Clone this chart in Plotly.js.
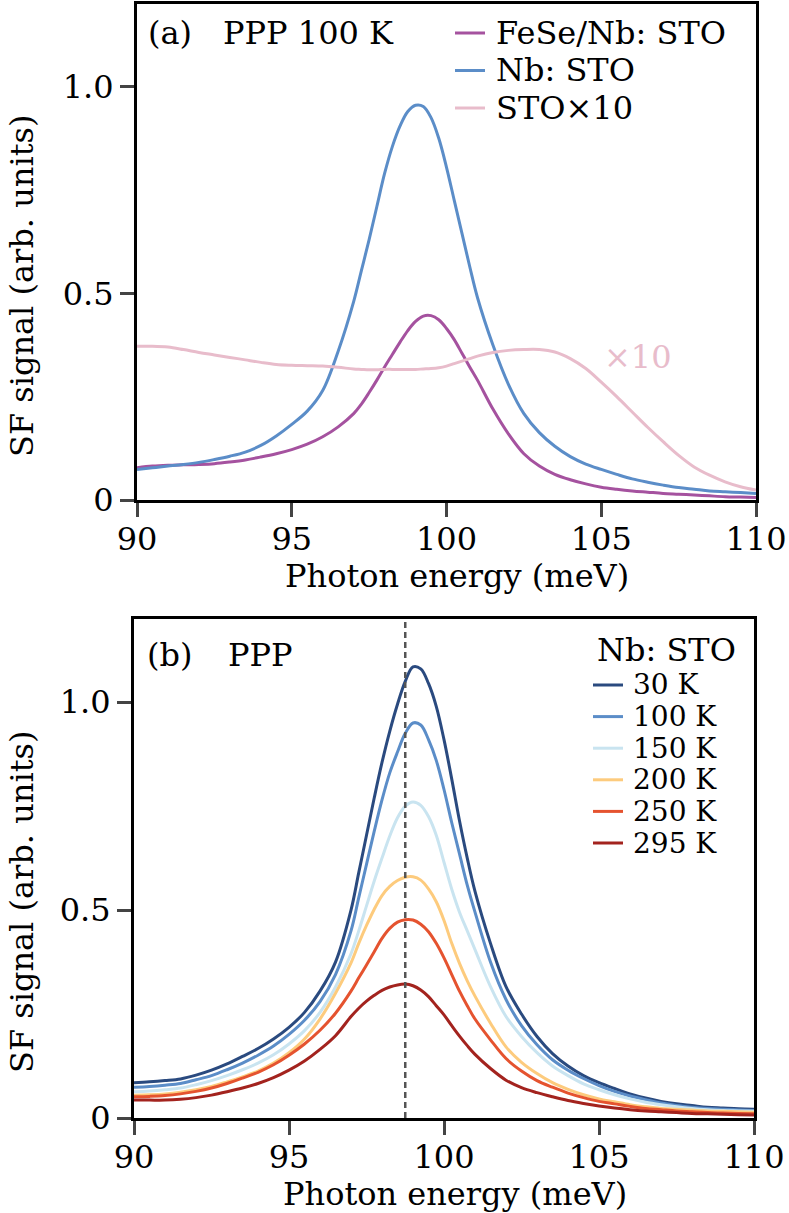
<!DOCTYPE html>
<html>
<head>
<meta charset="utf-8">
<script src="https://cdn.plot.ly/plotly-3.0.1.min.js"></script>
<style>body{margin:0;background:#fff}</style>
</head>
<body>
<div id="chart" style="width:789px;height:1213px"></div>
<script>
// photon energy grid (meV), shared by every curve; finer steps around the peak
var energy = [90, 90.5, 91, 91.5, 92, 92.5, 93, 93.5, 94, 94.5, 95, 95.5, 96, 96.5,
    97, 97.25, 97.5, 97.75, 98, 98.25, 98.5, 98.75, 99, 99.25, 99.5, 99.75, 100, 100.25, 100.5, 100.75, 101,
    101.5, 102, 102.5, 103, 103.5, 104, 104.5, 105, 105.5, 106, 106.5, 107, 107.5, 108, 108.5, 109, 109.5, 110]

// (a) PPP 100 K
var fese = [0.078, 0.082, 0.084, 0.085, 0.086, 0.088, 0.092, 0.097, 0.104, 0.112, 0.122, 0.135, 0.153, 0.177,
    0.209, 0.232, 0.26, 0.29, 0.322, 0.352, 0.382, 0.41, 0.432, 0.445, 0.446, 0.436, 0.415, 0.388, 0.355, 0.322, 0.29,
    0.22, 0.16, 0.112, 0.082, 0.062, 0.049, 0.039, 0.031, 0.026, 0.022, 0.019, 0.016, 0.014, 0.012, 0.01, 0.008, 0.007, 0.006]
var nbsto = [0.074, 0.078, 0.082, 0.086, 0.091, 0.098, 0.106, 0.116, 0.132, 0.155, 0.183, 0.215, 0.265, 0.36,
    0.48, 0.555, 0.63, 0.71, 0.79, 0.855, 0.905, 0.94, 0.955, 0.952, 0.925, 0.875, 0.805, 0.725, 0.645, 0.565, 0.49,
    0.375, 0.28, 0.209, 0.163, 0.13, 0.105, 0.087, 0.074, 0.062, 0.051, 0.043, 0.036, 0.03, 0.026, 0.022, 0.02, 0.018, 0.016]
var sto10 = [0.372, 0.372, 0.37, 0.364, 0.357, 0.351, 0.345, 0.339, 0.333, 0.328, 0.326, 0.325, 0.324, 0.321,
    0.317, 0.316, 0.315, 0.315, 0.316, 0.316, 0.316, 0.316, 0.316, 0.317, 0.318, 0.32, 0.324, 0.33, 0.336, 0.342, 0.348,
    0.357, 0.362, 0.364, 0.364, 0.358, 0.342, 0.318, 0.285, 0.25, 0.213, 0.176, 0.141, 0.108, 0.08, 0.06, 0.044, 0.032, 0.024]
var namesA = ['FeSe/Nb: STO', 'Nb: STO', 'STO×10']
var colorsA = ['#a5529f', '#5b8dc8', '#e8bccb']

// (b) PPP, Nb: STO vs temperature
var temps = ['30 K', '100 K', '150 K', '200 K', '250 K', '295 K']
var k30 = [0.085, 0.087, 0.09, 0.094, 0.103, 0.115, 0.13, 0.148, 0.167, 0.19, 0.218, 0.254, 0.305, 0.375,
    0.5, 0.59, 0.68, 0.77, 0.855, 0.93, 0.995, 1.05, 1.085, 1.08, 1.045, 0.99, 0.91, 0.815, 0.715, 0.625, 0.545,
    0.42, 0.316, 0.25, 0.196, 0.155, 0.125, 0.102, 0.085, 0.071, 0.058, 0.048, 0.04, 0.034, 0.03, 0.026, 0.024, 0.022, 0.021]
var k100 = [0.074, 0.076, 0.079, 0.083, 0.092, 0.102, 0.116, 0.132, 0.151, 0.173, 0.201, 0.235, 0.28, 0.345,
    0.45, 0.53, 0.61, 0.69, 0.765, 0.83, 0.88, 0.925, 0.95, 0.945, 0.91, 0.86, 0.79, 0.71, 0.635, 0.56, 0.495,
    0.375, 0.285, 0.222, 0.176, 0.14, 0.115, 0.095, 0.078, 0.064, 0.053, 0.044, 0.036, 0.03, 0.026, 0.023, 0.021, 0.019, 0.018]
var k150 = [0.063, 0.065, 0.068, 0.072, 0.08, 0.09, 0.102, 0.116, 0.132, 0.152, 0.178, 0.21, 0.254, 0.315,
    0.395, 0.45, 0.51, 0.57, 0.625, 0.678, 0.722, 0.75, 0.76, 0.752, 0.725, 0.68, 0.615, 0.55, 0.495, 0.45, 0.405,
    0.316, 0.244, 0.196, 0.157, 0.125, 0.102, 0.082, 0.068, 0.056, 0.046, 0.038, 0.032, 0.027, 0.023, 0.02, 0.018, 0.017, 0.016]
var k200 = [0.055, 0.056, 0.058, 0.062, 0.068, 0.076, 0.087, 0.099, 0.113, 0.132, 0.157, 0.19, 0.238, 0.3,
    0.373, 0.42, 0.463, 0.502, 0.535, 0.557, 0.571, 0.579, 0.58, 0.572, 0.551, 0.52, 0.475, 0.42, 0.372, 0.33, 0.293,
    0.228, 0.171, 0.134, 0.107, 0.085, 0.069, 0.056, 0.046, 0.039, 0.032, 0.027, 0.023, 0.021, 0.019, 0.017, 0.016, 0.015, 0.014]
var k250 = [0.051, 0.052, 0.054, 0.058, 0.064, 0.072, 0.083, 0.096, 0.11, 0.128, 0.151, 0.178, 0.211, 0.252,
    0.305, 0.337, 0.368, 0.4, 0.432, 0.456, 0.471, 0.477, 0.476, 0.466, 0.448, 0.42, 0.385, 0.345, 0.305, 0.27, 0.238,
    0.188, 0.143, 0.113, 0.09, 0.074, 0.06, 0.049, 0.04, 0.034, 0.028, 0.023, 0.02, 0.017, 0.015, 0.013, 0.012, 0.011, 0.01]
var k295 = [0.043, 0.043, 0.043, 0.045, 0.049, 0.055, 0.063, 0.072, 0.083, 0.097, 0.115, 0.137, 0.165, 0.198,
    0.244, 0.264, 0.281, 0.295, 0.307, 0.315, 0.32, 0.322, 0.318, 0.308, 0.292, 0.27, 0.248, 0.222, 0.197, 0.174, 0.153,
    0.119, 0.091, 0.073, 0.061, 0.051, 0.042, 0.035, 0.029, 0.024, 0.02, 0.017, 0.015, 0.013, 0.011, 0.01, 0.009, 0.008, 0.007]
var colorsB = ['#2a4a7f', '#5b8dc8', '#c9e4f0', '#fdcb7d', '#e5532f', '#a3231e']
var peakLine = 98.75

var FONT = 'DejaVu Serif'
var FS = 32
// page geometry (px) -> paper coords
var ML = 134, MR = 33, MT = 4, MB = 95, W = 789, H = 1213
var PW = W - ML - MR, PH = H - MT - MB
function px(x) { return (x - ML) / PW }
function py(y) { return (H - MB - y) / PH }

var traces = []
var seriesA = [fese, nbsto, sto10]
seriesA.forEach((s, i) => {
    traces.push({x: energy, y: s, xaxis: 'x', yaxis: 'y', type: 'scatter', mode: 'lines', name: namesA[i],
        line: {color: colorsA[i], width: 3, shape: 'spline', smoothing: 1}, showlegend: false})
})
var seriesB = [k30, k100, k150, k200, k250, k295]
seriesB.forEach((s, i) => {
    traces.push({x: energy, y: s, xaxis: 'x2', yaxis: 'y2', type: 'scatter', mode: 'lines', name: temps[i],
        line: {color: colorsB[i], width: 3, shape: 'spline', smoothing: 1}, showlegend: false})
})

function xax(dom) {
    return {domain: dom, range: [90, 110], tickvals: [90, 95, 100, 105, 110], ticks: 'outside', ticklen: 14, tickwidth: 3,
        ticklabelstandoff: -5,
        showline: true, linewidth: 3, linecolor: '#000', mirror: true, showgrid: false, zeroline: false,
        tickfont: {family: FONT, size: FS, color: '#000'}}
}
function yax(dom) {
    return {domain: dom, range: [0, 1.2], tickvals: [0, 0.5, 1.0], ticktext: ['0', '0.5', '1.0'], ticks: 'outside', ticklen: 14, tickwidth: 3,
        showline: true, linewidth: 3, linecolor: '#000', mirror: true, showgrid: false, zeroline: false,
        tickfont: {family: FONT, size: FS, color: '#000'}}
}

var annotations = [], shapes = []
function label(text, x, y, anchor, color, angle, size) {
    annotations.push({text: text, xref: 'paper', yref: 'paper', x: px(x), y: py(y), xanchor: anchor || 'left', yanchor: 'middle',
        textangle: angle || 0, showarrow: false, font: {family: FONT, size: size || FS, color: color || '#000'}})
}
// axis titles
label('Photon energy (meV)', 457, 576, 'center')
label('Photon energy (meV)', 455, 1194, 'center')
label('SF signal (arb. units)', 22, 286, 'center', '#000', -90)
label('SF signal (arb. units)', 22, 902, 'center', '#000', -90)

label('(a)', 146, 33)
label('PPP 100 K', 221, 33)
label('(b)', 145, 655)
label('PPP', 226, 655)

// legend (a)
namesA.forEach((n, i) => {
    var y = 33 + i * 37.5
    shapes.push({type: 'line', xref: 'paper', yref: 'paper', x0: px(455), x1: px(485), y0: py(y), y1: py(y), line: {color: colorsA[i], width: 3}})
    label(n, 494, y)
})
// legend (b)
label('Nb: STO', 738, 650, 'right')
temps.forEach((t, i) => {
    var y = 685 + i * 31.6
    shapes.push({type: 'line', xref: 'paper', yref: 'paper', x0: px(593), x1: px(623), y0: py(y), y1: py(y), line: {color: colorsB[i], width: 3}})
    label(t, 631, y, 'left', '#000', 0, 28)
})
// ×10 tag on the STO curve
annotations.push({text: '×10', xref: 'x', yref: 'y', x: 106.2, y: 0.345, showarrow: false, xanchor: 'center', yanchor: 'middle',
    font: {family: FONT, size: FS, color: colorsA[2]}})
// dashed reference line at the 295 K peak
shapes.push({type: 'line', xref: 'x2', yref: 'y2 domain', x0: peakLine, x1: peakLine, y0: 0, y1: 1,
    line: {color: '#555', width: 2.5, dash: '6px,4px'}})

var layout = {
    width: W, height: H,
    margin: {l: ML, r: MR, t: MT, b: MB},
    paper_bgcolor: '#fff', plot_bgcolor: '#fff',
    xaxis: Object.assign(xax([3 / PW, 1]), {anchor: 'y'}),
    yaxis: Object.assign(yax([py(500), 1]), {anchor: 'x'}),
    xaxis2: Object.assign(xax([0, 620 / PW]), {anchor: 'y2'}),
    yaxis2: Object.assign(yax([0, py(619)]), {anchor: 'x2'}),
    annotations: annotations,
    shapes: shapes,
    showlegend: false
}
Plotly.newPlot('chart', traces, layout, {displayModeBar: false, staticPlot: true})
</script>
</body>
</html>
